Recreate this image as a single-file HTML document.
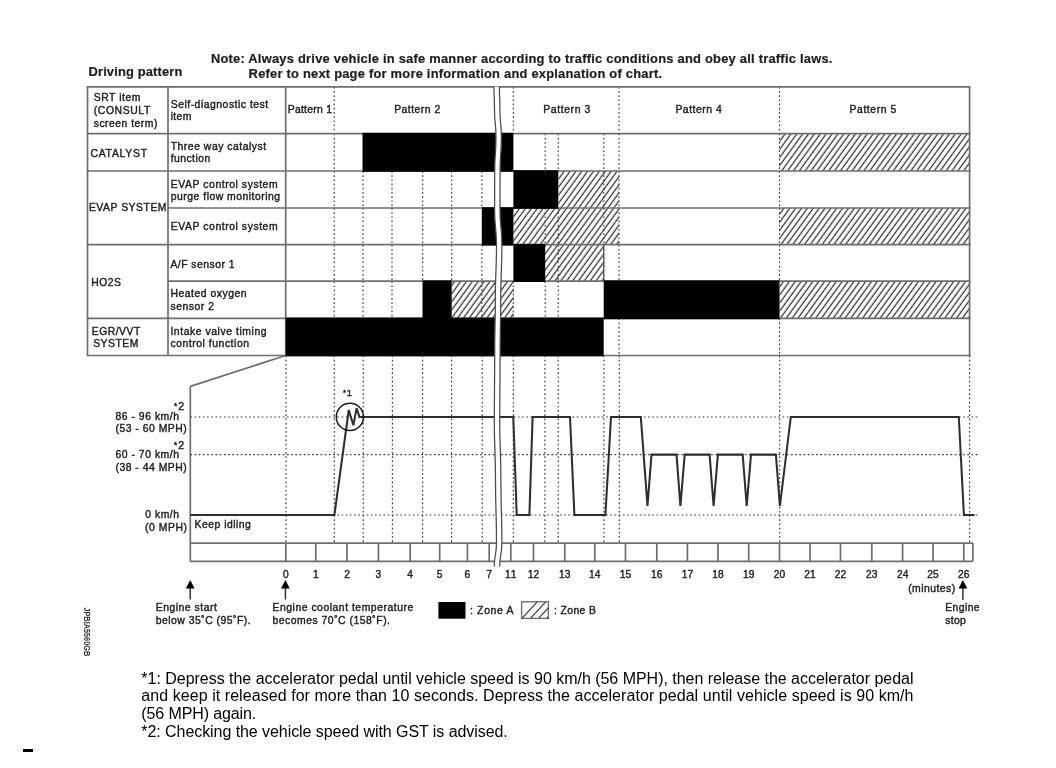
<!DOCTYPE html>
<html><head><meta charset="utf-8"><style>
html,body{margin:0;padding:0;background:#fff;width:1056px;height:768px;overflow:hidden}
svg{display:block;filter:grayscale(1);font-family:"Liberation Sans",sans-serif}
</style></head><body>
<svg width="1056" height="768" viewBox="0 0 1056 768">
<defs>
<pattern id="hatch" patternUnits="userSpaceOnUse" width="4.75" height="20" patternTransform="rotate(36)">
<line x1="1.35" y1="0" x2="1.35" y2="20" stroke="#2e2e2e" stroke-width="1.25"/>
</pattern>
</defs>
<rect width="1056" height="768" fill="#fff"/>
<g fill="#1e1e1e">
<rect x="779.50" y="133.60" width="190.10" height="37.40" fill="url(#hatch)"/>
<rect x="558.30" y="171.00" width="60.70" height="37.00" fill="url(#hatch)"/>
<rect x="513.40" y="208.00" width="105.60" height="36.70" fill="url(#hatch)"/>
<rect x="779.50" y="208.00" width="190.10" height="36.70" fill="url(#hatch)"/>
<rect x="545.20" y="244.70" width="58.50" height="36.50" fill="url(#hatch)"/>
<rect x="451.70" y="281.20" width="61.70" height="37.20" fill="url(#hatch)"/>
<rect x="779.50" y="281.20" width="190.10" height="37.20" fill="url(#hatch)"/>
<line x1="334.2" y1="86.8" x2="334.2" y2="133.6" stroke="#3c3c3c" stroke-width="1.15" stroke-dasharray="1.7 2.5"/>
<line x1="513.3" y1="86.8" x2="513.3" y2="133.6" stroke="#3c3c3c" stroke-width="1.15" stroke-dasharray="1.7 2.5"/>
<line x1="619.0" y1="86.8" x2="619.0" y2="133.6" stroke="#3c3c3c" stroke-width="1.15" stroke-dasharray="1.7 2.5"/>
<line x1="779.5" y1="86.8" x2="779.5" y2="133.6" stroke="#3c3c3c" stroke-width="1.15" stroke-dasharray="1.7 2.5"/>
<line x1="334.2" y1="133.6" x2="334.2" y2="171.0" stroke="#3c3c3c" stroke-width="1.15" stroke-dasharray="1.7 2.5"/>
<line x1="545.2" y1="133.6" x2="545.2" y2="171.0" stroke="#3c3c3c" stroke-width="1.15" stroke-dasharray="1.7 2.5"/>
<line x1="558.2" y1="133.6" x2="558.2" y2="171.0" stroke="#3c3c3c" stroke-width="1.15" stroke-dasharray="1.7 2.5"/>
<line x1="603.8" y1="133.6" x2="603.8" y2="171.0" stroke="#3c3c3c" stroke-width="1.15" stroke-dasharray="1.7 2.5"/>
<line x1="619.0" y1="133.6" x2="619.0" y2="171.0" stroke="#3c3c3c" stroke-width="1.15" stroke-dasharray="1.7 2.5"/>
<line x1="779.5" y1="133.6" x2="779.5" y2="171.0" stroke="#3c3c3c" stroke-width="1.15" stroke-dasharray="1.7 2.5"/>
<line x1="334.2" y1="171.0" x2="334.2" y2="208.0" stroke="#3c3c3c" stroke-width="1.15" stroke-dasharray="1.7 2.5"/>
<line x1="363.0" y1="171.0" x2="363.0" y2="208.0" stroke="#3c3c3c" stroke-width="1.15" stroke-dasharray="1.7 2.5"/>
<line x1="392.0" y1="171.0" x2="392.0" y2="208.0" stroke="#3c3c3c" stroke-width="1.15" stroke-dasharray="1.7 2.5"/>
<line x1="422.7" y1="171.0" x2="422.7" y2="208.0" stroke="#3c3c3c" stroke-width="1.15" stroke-dasharray="1.7 2.5"/>
<line x1="451.7" y1="171.0" x2="451.7" y2="208.0" stroke="#3c3c3c" stroke-width="1.15" stroke-dasharray="1.7 2.5"/>
<line x1="481.9" y1="171.0" x2="481.9" y2="208.0" stroke="#3c3c3c" stroke-width="1.15" stroke-dasharray="1.7 2.5"/>
<line x1="603.8" y1="171.0" x2="603.8" y2="208.0" stroke="#3c3c3c" stroke-width="1.15" stroke-dasharray="1.7 2.5"/>
<line x1="619.0" y1="171.0" x2="619.0" y2="208.0" stroke="#3c3c3c" stroke-width="1.15" stroke-dasharray="1.7 2.5"/>
<line x1="779.5" y1="171.0" x2="779.5" y2="208.0" stroke="#3c3c3c" stroke-width="1.15" stroke-dasharray="1.7 2.5"/>
<line x1="334.2" y1="208.0" x2="334.2" y2="244.7" stroke="#3c3c3c" stroke-width="1.15" stroke-dasharray="1.7 2.5"/>
<line x1="363.0" y1="208.0" x2="363.0" y2="244.7" stroke="#3c3c3c" stroke-width="1.15" stroke-dasharray="1.7 2.5"/>
<line x1="392.0" y1="208.0" x2="392.0" y2="244.7" stroke="#3c3c3c" stroke-width="1.15" stroke-dasharray="1.7 2.5"/>
<line x1="422.7" y1="208.0" x2="422.7" y2="244.7" stroke="#3c3c3c" stroke-width="1.15" stroke-dasharray="1.7 2.5"/>
<line x1="451.7" y1="208.0" x2="451.7" y2="244.7" stroke="#3c3c3c" stroke-width="1.15" stroke-dasharray="1.7 2.5"/>
<line x1="545.2" y1="208.0" x2="545.2" y2="244.7" stroke="#3c3c3c" stroke-width="1.15" stroke-dasharray="1.7 2.5"/>
<line x1="558.2" y1="208.0" x2="558.2" y2="244.7" stroke="#3c3c3c" stroke-width="1.15" stroke-dasharray="1.7 2.5"/>
<line x1="603.8" y1="208.0" x2="603.8" y2="244.7" stroke="#3c3c3c" stroke-width="1.15" stroke-dasharray="1.7 2.5"/>
<line x1="619.0" y1="208.0" x2="619.0" y2="244.7" stroke="#3c3c3c" stroke-width="1.15" stroke-dasharray="1.7 2.5"/>
<line x1="779.5" y1="208.0" x2="779.5" y2="244.7" stroke="#3c3c3c" stroke-width="1.15" stroke-dasharray="1.7 2.5"/>
<line x1="334.2" y1="244.7" x2="334.2" y2="281.2" stroke="#3c3c3c" stroke-width="1.15" stroke-dasharray="1.7 2.5"/>
<line x1="363.0" y1="244.7" x2="363.0" y2="281.2" stroke="#3c3c3c" stroke-width="1.15" stroke-dasharray="1.7 2.5"/>
<line x1="392.0" y1="244.7" x2="392.0" y2="281.2" stroke="#3c3c3c" stroke-width="1.15" stroke-dasharray="1.7 2.5"/>
<line x1="422.7" y1="244.7" x2="422.7" y2="281.2" stroke="#3c3c3c" stroke-width="1.15" stroke-dasharray="1.7 2.5"/>
<line x1="451.7" y1="244.7" x2="451.7" y2="281.2" stroke="#3c3c3c" stroke-width="1.15" stroke-dasharray="1.7 2.5"/>
<line x1="481.9" y1="244.7" x2="481.9" y2="281.2" stroke="#3c3c3c" stroke-width="1.15" stroke-dasharray="1.7 2.5"/>
<line x1="558.2" y1="244.7" x2="558.2" y2="281.2" stroke="#3c3c3c" stroke-width="1.15" stroke-dasharray="1.7 2.5"/>
<line x1="603.8" y1="244.7" x2="603.8" y2="281.2" stroke="#3c3c3c" stroke-width="1.15" stroke-dasharray="1.7 2.5"/>
<line x1="619.0" y1="244.7" x2="619.0" y2="281.2" stroke="#3c3c3c" stroke-width="1.15" stroke-dasharray="1.7 2.5"/>
<line x1="779.5" y1="244.7" x2="779.5" y2="281.2" stroke="#3c3c3c" stroke-width="1.15" stroke-dasharray="1.7 2.5"/>
<line x1="334.2" y1="281.2" x2="334.2" y2="318.4" stroke="#3c3c3c" stroke-width="1.15" stroke-dasharray="1.7 2.5"/>
<line x1="363.0" y1="281.2" x2="363.0" y2="318.4" stroke="#3c3c3c" stroke-width="1.15" stroke-dasharray="1.7 2.5"/>
<line x1="392.0" y1="281.2" x2="392.0" y2="318.4" stroke="#3c3c3c" stroke-width="1.15" stroke-dasharray="1.7 2.5"/>
<line x1="481.9" y1="281.2" x2="481.9" y2="318.4" stroke="#3c3c3c" stroke-width="1.15" stroke-dasharray="1.7 2.5"/>
<line x1="513.3" y1="281.2" x2="513.3" y2="318.4" stroke="#3c3c3c" stroke-width="1.15" stroke-dasharray="1.7 2.5"/>
<line x1="545.2" y1="281.2" x2="545.2" y2="318.4" stroke="#3c3c3c" stroke-width="1.15" stroke-dasharray="1.7 2.5"/>
<line x1="558.2" y1="281.2" x2="558.2" y2="318.4" stroke="#3c3c3c" stroke-width="1.15" stroke-dasharray="1.7 2.5"/>
<line x1="619.0" y1="318.4" x2="619.0" y2="355.5" stroke="#3c3c3c" stroke-width="1.15" stroke-dasharray="1.7 2.5"/>
<line x1="779.5" y1="318.4" x2="779.5" y2="355.5" stroke="#3c3c3c" stroke-width="1.15" stroke-dasharray="1.7 2.5"/>
<line x1="86.65" y1="86.8" x2="970.45" y2="86.8" stroke="#6e6e6e" stroke-width="1.7" />
<line x1="86.65" y1="133.6" x2="970.45" y2="133.6" stroke="#6e6e6e" stroke-width="1.7" />
<line x1="86.65" y1="171.0" x2="970.45" y2="171.0" stroke="#6e6e6e" stroke-width="1.7" />
<line x1="168.0" y1="208.0" x2="970.45" y2="208.0" stroke="#6e6e6e" stroke-width="1.7" />
<line x1="86.65" y1="244.7" x2="970.45" y2="244.7" stroke="#6e6e6e" stroke-width="1.7" />
<line x1="168.0" y1="281.2" x2="970.45" y2="281.2" stroke="#6e6e6e" stroke-width="1.7" />
<line x1="86.65" y1="318.4" x2="970.45" y2="318.4" stroke="#6e6e6e" stroke-width="1.7" />
<line x1="86.65" y1="355.5" x2="970.45" y2="355.5" stroke="#6e6e6e" stroke-width="1.7" />
<line x1="603.7" y1="244.7" x2="603.7" y2="281.2" stroke="#555" stroke-width="1.3" />
<line x1="87.5" y1="86.8" x2="87.5" y2="355.5" stroke="#6e6e6e" stroke-width="1.7" />
<line x1="168.0" y1="86.8" x2="168.0" y2="355.5" stroke="#6e6e6e" stroke-width="1.7" />
<line x1="285.7" y1="86.8" x2="285.7" y2="355.5" stroke="#6e6e6e" stroke-width="1.7" />
<line x1="969.6" y1="86.8" x2="969.6" y2="355.5" stroke="#6e6e6e" stroke-width="1.7" />
<rect x="362.50" y="132.79999999999998" width="150.90" height="39.00000000000001" fill="#000"/>
<rect x="513.40" y="170.2" width="44.90" height="38.6" fill="#000"/>
<rect x="481.80" y="207.2" width="31.60" height="38.29999999999999" fill="#000"/>
<rect x="513.40" y="243.89999999999998" width="31.80" height="38.1" fill="#000"/>
<rect x="422.50" y="280.4" width="29.20" height="38.79999999999999" fill="#000"/>
<rect x="603.70" y="280.4" width="175.80" height="38.79999999999999" fill="#000"/>
<rect x="285.70" y="317.59999999999997" width="318.00" height="38.700000000000024" fill="#000"/>
<line x1="285.7" y1="355.5" x2="190.3" y2="386.4" stroke="#6e6e6e" stroke-width="1.7" />
<line x1="190.3" y1="386.4" x2="190.3" y2="561.3" stroke="#6e6e6e" stroke-width="1.7" />
<line x1="190.3" y1="417.0" x2="977.6" y2="417.0" stroke="#3c3c3c" stroke-width="1.15" stroke-dasharray="1.7 2.5"/>
<line x1="190.3" y1="454.6" x2="977.6" y2="454.6" stroke="#3c3c3c" stroke-width="1.15" stroke-dasharray="1.7 2.5"/>
<line x1="190.3" y1="515.0" x2="977.6" y2="515.0" stroke="#3c3c3c" stroke-width="1.15" stroke-dasharray="1.7 2.5"/>
<line x1="286.0" y1="355.5" x2="286.0" y2="543.1" stroke="#3c3c3c" stroke-width="1.15" stroke-dasharray="1.7 2.5"/>
<line x1="334.3" y1="355.5" x2="334.3" y2="543.1" stroke="#3c3c3c" stroke-width="1.15" stroke-dasharray="1.7 2.5"/>
<line x1="363.2" y1="355.5" x2="363.2" y2="543.1" stroke="#3c3c3c" stroke-width="1.15" stroke-dasharray="1.7 2.5"/>
<line x1="392.4" y1="355.5" x2="392.4" y2="543.1" stroke="#3c3c3c" stroke-width="1.15" stroke-dasharray="1.7 2.5"/>
<line x1="422.6" y1="355.5" x2="422.6" y2="543.1" stroke="#3c3c3c" stroke-width="1.15" stroke-dasharray="1.7 2.5"/>
<line x1="451.6" y1="355.5" x2="451.6" y2="543.1" stroke="#3c3c3c" stroke-width="1.15" stroke-dasharray="1.7 2.5"/>
<line x1="482.2" y1="355.5" x2="482.2" y2="543.1" stroke="#3c3c3c" stroke-width="1.15" stroke-dasharray="1.7 2.5"/>
<line x1="513.3" y1="355.5" x2="513.3" y2="543.1" stroke="#3c3c3c" stroke-width="1.15" stroke-dasharray="1.7 2.5"/>
<line x1="544.9" y1="355.5" x2="544.9" y2="543.1" stroke="#3c3c3c" stroke-width="1.15" stroke-dasharray="1.7 2.5"/>
<line x1="558.2" y1="355.5" x2="558.2" y2="543.1" stroke="#3c3c3c" stroke-width="1.15" stroke-dasharray="1.7 2.5"/>
<line x1="603.9" y1="355.5" x2="603.9" y2="543.1" stroke="#3c3c3c" stroke-width="1.15" stroke-dasharray="1.7 2.5"/>
<line x1="619.3" y1="355.5" x2="619.3" y2="543.1" stroke="#3c3c3c" stroke-width="1.15" stroke-dasharray="1.7 2.5"/>
<line x1="779.7" y1="355.5" x2="779.7" y2="543.1" stroke="#3c3c3c" stroke-width="1.15" stroke-dasharray="1.7 2.5"/>
<line x1="969.6" y1="355.5" x2="969.6" y2="543.1" stroke="#3c3c3c" stroke-width="1.15" stroke-dasharray="1.7 2.5"/>
<line x1="190.3" y1="543.1" x2="972.9" y2="543.1" stroke="#6e6e6e" stroke-width="1.7" />
<line x1="190.3" y1="561.3" x2="972.9" y2="561.3" stroke="#6e6e6e" stroke-width="1.7" />
<line x1="972.9" y1="543.1" x2="972.9" y2="561.3" stroke="#6e6e6e" stroke-width="1.7" />
<line x1="285.8" y1="543.1" x2="285.8" y2="561.3" stroke="#6e6e6e" stroke-width="1.7" />
<text x="285.8" y="578.0" font-size="10.2" stroke="#1e1e1e" stroke-width="0.4" text-anchor="middle" stroke-width="0.42">0</text>
<line x1="315.8" y1="543.1" x2="315.8" y2="561.3" stroke="#6e6e6e" stroke-width="1.7" />
<text x="315.8" y="578.0" font-size="10.2" stroke="#1e1e1e" stroke-width="0.4" text-anchor="middle" stroke-width="0.42">1</text>
<line x1="347.0" y1="543.1" x2="347.0" y2="561.3" stroke="#6e6e6e" stroke-width="1.7" />
<text x="347.0" y="578.0" font-size="10.2" stroke="#1e1e1e" stroke-width="0.4" text-anchor="middle" stroke-width="0.42">2</text>
<line x1="378.4" y1="543.1" x2="378.4" y2="561.3" stroke="#6e6e6e" stroke-width="1.7" />
<text x="378.4" y="578.0" font-size="10.2" stroke="#1e1e1e" stroke-width="0.4" text-anchor="middle" stroke-width="0.42">3</text>
<line x1="410.2" y1="543.1" x2="410.2" y2="561.3" stroke="#6e6e6e" stroke-width="1.7" />
<text x="410.2" y="578.0" font-size="10.2" stroke="#1e1e1e" stroke-width="0.4" text-anchor="middle" stroke-width="0.42">4</text>
<line x1="439.7" y1="543.1" x2="439.7" y2="561.3" stroke="#6e6e6e" stroke-width="1.7" />
<text x="439.7" y="578.0" font-size="10.2" stroke="#1e1e1e" stroke-width="0.4" text-anchor="middle" stroke-width="0.42">5</text>
<line x1="467.4" y1="543.1" x2="467.4" y2="561.3" stroke="#6e6e6e" stroke-width="1.7" />
<text x="467.4" y="578.0" font-size="10.2" stroke="#1e1e1e" stroke-width="0.4" text-anchor="middle" stroke-width="0.42">6</text>
<line x1="489.2" y1="543.1" x2="489.2" y2="561.3" stroke="#6e6e6e" stroke-width="1.7" />
<text x="489.2" y="578.0" font-size="10.2" stroke="#1e1e1e" stroke-width="0.4" text-anchor="middle" stroke-width="0.42">7</text>
<line x1="510.8" y1="543.1" x2="510.8" y2="561.3" stroke="#6e6e6e" stroke-width="1.7" />
<text x="510.8" y="578.0" font-size="10.2" stroke="#1e1e1e" stroke-width="0.4" textLength="11.4" lengthAdjust="spacing" text-anchor="middle" stroke-width="0.42">11</text>
<line x1="533.5" y1="543.1" x2="533.5" y2="561.3" stroke="#6e6e6e" stroke-width="1.7" />
<text x="533.5" y="578.0" font-size="10.2" stroke="#1e1e1e" stroke-width="0.4" textLength="11.4" lengthAdjust="spacing" text-anchor="middle" stroke-width="0.42">12</text>
<line x1="564.8" y1="543.1" x2="564.8" y2="561.3" stroke="#6e6e6e" stroke-width="1.7" />
<text x="564.8" y="578.0" font-size="10.2" stroke="#1e1e1e" stroke-width="0.4" textLength="11.4" lengthAdjust="spacing" text-anchor="middle" stroke-width="0.42">13</text>
<line x1="594.8" y1="543.1" x2="594.8" y2="561.3" stroke="#6e6e6e" stroke-width="1.7" />
<text x="594.8" y="578.0" font-size="10.2" stroke="#1e1e1e" stroke-width="0.4" textLength="11.4" lengthAdjust="spacing" text-anchor="middle" stroke-width="0.42">14</text>
<line x1="625.5" y1="543.1" x2="625.5" y2="561.3" stroke="#6e6e6e" stroke-width="1.7" />
<text x="625.5" y="578.0" font-size="10.2" stroke="#1e1e1e" stroke-width="0.4" textLength="11.4" lengthAdjust="spacing" text-anchor="middle" stroke-width="0.42">15</text>
<line x1="656.8" y1="543.1" x2="656.8" y2="561.3" stroke="#6e6e6e" stroke-width="1.7" />
<text x="656.8" y="578.0" font-size="10.2" stroke="#1e1e1e" stroke-width="0.4" textLength="11.4" lengthAdjust="spacing" text-anchor="middle" stroke-width="0.42">16</text>
<line x1="687.4" y1="543.1" x2="687.4" y2="561.3" stroke="#6e6e6e" stroke-width="1.7" />
<text x="687.4" y="578.0" font-size="10.2" stroke="#1e1e1e" stroke-width="0.4" textLength="11.4" lengthAdjust="spacing" text-anchor="middle" stroke-width="0.42">17</text>
<line x1="718.0" y1="543.1" x2="718.0" y2="561.3" stroke="#6e6e6e" stroke-width="1.7" />
<text x="718.0" y="578.0" font-size="10.2" stroke="#1e1e1e" stroke-width="0.4" textLength="11.4" lengthAdjust="spacing" text-anchor="middle" stroke-width="0.42">18</text>
<line x1="748.7" y1="543.1" x2="748.7" y2="561.3" stroke="#6e6e6e" stroke-width="1.7" />
<text x="748.7" y="578.0" font-size="10.2" stroke="#1e1e1e" stroke-width="0.4" textLength="11.4" lengthAdjust="spacing" text-anchor="middle" stroke-width="0.42">19</text>
<line x1="779.5" y1="543.1" x2="779.5" y2="561.3" stroke="#6e6e6e" stroke-width="1.7" />
<text x="779.5" y="578.0" font-size="10.2" stroke="#1e1e1e" stroke-width="0.4" textLength="11.4" lengthAdjust="spacing" text-anchor="middle" stroke-width="0.42">20</text>
<line x1="810.0" y1="543.1" x2="810.0" y2="561.3" stroke="#6e6e6e" stroke-width="1.7" />
<text x="810.0" y="578.0" font-size="10.2" stroke="#1e1e1e" stroke-width="0.4" textLength="11.4" lengthAdjust="spacing" text-anchor="middle" stroke-width="0.42">21</text>
<line x1="840.5" y1="543.1" x2="840.5" y2="561.3" stroke="#6e6e6e" stroke-width="1.7" />
<text x="840.5" y="578.0" font-size="10.2" stroke="#1e1e1e" stroke-width="0.4" textLength="11.4" lengthAdjust="spacing" text-anchor="middle" stroke-width="0.42">22</text>
<line x1="871.8" y1="543.1" x2="871.8" y2="561.3" stroke="#6e6e6e" stroke-width="1.7" />
<text x="871.8" y="578.0" font-size="10.2" stroke="#1e1e1e" stroke-width="0.4" textLength="11.4" lengthAdjust="spacing" text-anchor="middle" stroke-width="0.42">23</text>
<line x1="902.6" y1="543.1" x2="902.6" y2="561.3" stroke="#6e6e6e" stroke-width="1.7" />
<text x="902.6" y="578.0" font-size="10.2" stroke="#1e1e1e" stroke-width="0.4" textLength="11.4" lengthAdjust="spacing" text-anchor="middle" stroke-width="0.42">24</text>
<line x1="933.0" y1="543.1" x2="933.0" y2="561.3" stroke="#6e6e6e" stroke-width="1.7" />
<text x="933.0" y="578.0" font-size="10.2" stroke="#1e1e1e" stroke-width="0.4" textLength="11.4" lengthAdjust="spacing" text-anchor="middle" stroke-width="0.42">25</text>
<line x1="963.8" y1="543.1" x2="963.8" y2="561.3" stroke="#6e6e6e" stroke-width="1.7" />
<text x="963.8" y="578.0" font-size="10.2" stroke="#1e1e1e" stroke-width="0.4" textLength="11.4" lengthAdjust="spacing" text-anchor="middle" stroke-width="0.42">26</text>
<polyline points="190.3,515.0 334.4,515.0 348.75,410.0 353.4,425.3 356.6,408.1 359.5,417.0 497.3,417.0" fill="none" stroke="#2e2e2e" stroke-width="2.05" stroke-linejoin="miter"/>
<polyline points="497.3,417.0 513.3,417.0 516.7,515.0 529.4,515.0 532.6,417.0 570.0,417.0 574.4,515.0 605.4,515.0 611.0,417.0 640.8,417.0 647.5,506.0 651.5,454.6 676.5,454.6 680.4,506.0 684.7,454.6 709.6,454.6 713.6,506.0 717.9,454.6 742.7,454.6 746.7,506.0 751.0,454.6 775.9,454.6 779.9,506.0 790.8,417.0 958.8,417.0 963.9,515.0 974.6,515.0" fill="none" stroke="#2e2e2e" stroke-width="2.05" stroke-linejoin="miter"/>
<circle cx="349.9" cy="416.9" r="13.6" fill="none" stroke="#1a1a1a" stroke-width="1.5"/>
<path d="M496.7,86.8 C496.7,98.4 497.2,98.4 497.2,110 C497.2,123.5 498.7,123.5 498.7,137 C498.7,154.0 497.4,154.0 497.4,171 C497.4,190.5 497.3,190.5 497.3,210 C497.3,227.5 499.2,227.5 499.2,245 C499.2,272.5 498.0,272.5 498.0,300 C498.0,327.5 497.4,327.5 497.4,355 C497.4,387.5 497.0,387.5 497.0,420 C497.0,450.0 498.2,450.0 498.2,480 C498.2,511.5 499.2,511.5 499.2,543 C499.2,554.75 497.0,554.75 497.0,566.5" fill="none" stroke="#fff" stroke-width="5.6"/>
<path d="M494.0,86.8 C494.0,98.4 494.5,98.4 494.5,110 C494.5,123.5 496.0,123.5 496.0,137 C496.0,154.0 494.7,154.0 494.7,171 C494.7,190.5 494.6,190.5 494.6,210 C494.6,227.5 496.5,227.5 496.5,245 C496.5,272.5 495.3,272.5 495.3,300 C495.3,327.5 494.7,327.5 494.7,355 C494.7,387.5 494.3,387.5 494.3,420 C494.3,450.0 495.5,450.0 495.5,480 C495.5,511.5 496.5,511.5 496.5,543 C496.5,554.75 494.3,554.75 494.3,566.5" fill="none" stroke="#4a4a4a" stroke-width="1.25"/>
<path d="M499.4,86.8 C499.4,98.4 499.9,98.4 499.9,110 C499.9,123.5 501.4,123.5 501.4,137 C501.4,154.0 500.09999999999997,154.0 500.09999999999997,171 C500.09999999999997,190.5 500.0,190.5 500.0,210 C500.0,227.5 501.9,227.5 501.9,245 C501.9,272.5 500.7,272.5 500.7,300 C500.7,327.5 500.09999999999997,327.5 500.09999999999997,355 C500.09999999999997,387.5 499.7,387.5 499.7,420 C499.7,450.0 500.9,450.0 500.9,480 C500.9,511.5 501.9,511.5 501.9,543 C501.9,554.75 499.7,554.75 499.7,566.5" fill="none" stroke="#4a4a4a" stroke-width="1.25"/>
<text x="88.5" y="75.9" font-size="12.9" font-weight="bold" textLength="93.8" lengthAdjust="spacing" stroke="#1e1e1e" stroke-width="0.2">Driving pattern</text>
<text x="210.9" y="63.0" font-size="12.9" font-weight="bold" textLength="621.5" lengthAdjust="spacing" stroke="#1e1e1e" stroke-width="0.2">Note: Always drive vehicle in safe manner according to traffic conditions and obey all traffic laws.</text>
<text x="248.6" y="77.8" font-size="12.9" font-weight="bold" textLength="413.4" lengthAdjust="spacing" stroke="#1e1e1e" stroke-width="0.2">Refer to next page for more information and explanation of chart.</text>
<text x="93.7" y="101.3" font-size="10.4" stroke="#1e1e1e" stroke-width="0.4" textLength="46.7" lengthAdjust="spacing" >SRT item</text>
<text x="93.7" y="114.4" font-size="10.4" stroke="#1e1e1e" stroke-width="0.4" textLength="56.6" lengthAdjust="spacing" >(CONSULT</text>
<text x="93.7" y="127.1" font-size="10.4" stroke="#1e1e1e" stroke-width="0.4" textLength="63.7" lengthAdjust="spacing" >screen term)</text>
<text x="170.7" y="107.5" font-size="10.4" stroke="#1e1e1e" stroke-width="0.4" textLength="97.5" lengthAdjust="spacing" >Self-diagnostic test</text>
<text x="170.7" y="120.3" font-size="10.4" stroke="#1e1e1e" stroke-width="0.4" textLength="20.6" lengthAdjust="spacing" >item</text>
<text x="287.7" y="113.2" font-size="10.4" stroke="#1e1e1e" stroke-width="0.4" textLength="44.3" lengthAdjust="spacing" >Pattern 1</text>
<text x="394.2" y="113.2" font-size="10.4" stroke="#1e1e1e" stroke-width="0.4" textLength="46.0" lengthAdjust="spacing" >Pattern 2</text>
<text x="543.3" y="113.2" font-size="10.4" stroke="#1e1e1e" stroke-width="0.4" textLength="47.0" lengthAdjust="spacing" >Pattern 3</text>
<text x="675.4" y="113.2" font-size="10.4" stroke="#1e1e1e" stroke-width="0.4" textLength="46.3" lengthAdjust="spacing" >Pattern 4</text>
<text x="849.6" y="113.2" font-size="10.4" stroke="#1e1e1e" stroke-width="0.4" textLength="46.6" lengthAdjust="spacing" >Pattern 5</text>
<text x="90.4" y="156.8" font-size="10.4" stroke="#1e1e1e" stroke-width="0.4" textLength="56.7" lengthAdjust="spacing" >CATALYST</text>
<text x="170.7" y="149.5" font-size="10.4" stroke="#1e1e1e" stroke-width="0.4" textLength="95.5" lengthAdjust="spacing" >Three way catalyst</text>
<text x="170.7" y="161.9" font-size="10.4" stroke="#1e1e1e" stroke-width="0.4" textLength="39.5" lengthAdjust="spacing" >function</text>
<text x="88.9" y="211.1" font-size="10.4" stroke="#1e1e1e" stroke-width="0.4" textLength="77.6" lengthAdjust="spacing" >EVAP SYSTEM</text>
<text x="170.8" y="187.7" font-size="10.4" stroke="#1e1e1e" stroke-width="0.4" textLength="106.8" lengthAdjust="spacing" >EVAP control system</text>
<text x="170.8" y="199.9" font-size="10.4" stroke="#1e1e1e" stroke-width="0.4" textLength="109.3" lengthAdjust="spacing" >purge flow monitoring</text>
<text x="170.8" y="230.0" font-size="10.4" stroke="#1e1e1e" stroke-width="0.4" textLength="106.8" lengthAdjust="spacing" >EVAP control system</text>
<text x="91.2" y="285.6" font-size="10.4" stroke="#1e1e1e" stroke-width="0.4" textLength="29.7" lengthAdjust="spacing" >HO2S</text>
<text x="170.4" y="268.1" font-size="10.4" stroke="#1e1e1e" stroke-width="0.4" textLength="64.1" lengthAdjust="spacing" >A/F sensor 1</text>
<text x="170.4" y="297.3" font-size="10.4" stroke="#1e1e1e" stroke-width="0.4" textLength="76.1" lengthAdjust="spacing" >Heated oxygen</text>
<text x="170.4" y="309.9" font-size="10.4" stroke="#1e1e1e" stroke-width="0.4" textLength="43.7" lengthAdjust="spacing" >sensor 2</text>
<text x="91.8" y="334.5" font-size="10.4" stroke="#1e1e1e" stroke-width="0.4" textLength="48.5" lengthAdjust="spacing" >EGR/VVT</text>
<text x="93.2" y="347.4" font-size="10.4" stroke="#1e1e1e" stroke-width="0.4" textLength="45.2" lengthAdjust="spacing" >SYSTEM</text>
<text x="170.4" y="334.5" font-size="10.4" stroke="#1e1e1e" stroke-width="0.4" textLength="96.1" lengthAdjust="spacing" >Intake valve timing</text>
<text x="170.4" y="347.4" font-size="10.4" stroke="#1e1e1e" stroke-width="0.4" textLength="78.6" lengthAdjust="spacing" >control function</text>
<text x="115.4" y="419.5" font-size="10.4" stroke="#1e1e1e" stroke-width="0.4" textLength="63.6" lengthAdjust="spacing" >86 - 96 km/h</text>
<text x="115.4" y="432.0" font-size="10.4" stroke="#1e1e1e" stroke-width="0.4" textLength="71.4" lengthAdjust="spacing" >(53 - 60 MPH)</text>
<text x="115.4" y="458.0" font-size="10.4" stroke="#1e1e1e" stroke-width="0.4" textLength="63.6" lengthAdjust="spacing" >60 - 70 km/h</text>
<text x="115.4" y="470.5" font-size="10.4" stroke="#1e1e1e" stroke-width="0.4" textLength="71.4" lengthAdjust="spacing" >(38 - 44 MPH)</text>
<text x="145.2" y="518.3" font-size="10.4" stroke="#1e1e1e" stroke-width="0.4" textLength="33.8" lengthAdjust="spacing" >0 km/h</text>
<text x="145.0" y="530.8" font-size="10.4" stroke="#1e1e1e" stroke-width="0.4" textLength="42.0" lengthAdjust="spacing" >(0 MPH)</text>
<text x="194.6" y="528.1" font-size="10.4" stroke="#1e1e1e" stroke-width="0.4" textLength="56.3" lengthAdjust="spacing" >Keep idling</text>
<text x="908.2" y="592.3" font-size="10.4" stroke="#1e1e1e" stroke-width="0.4" textLength="46.9" lengthAdjust="spacing" >(minutes)</text>
<text x="945.3" y="611.2" font-size="10.4" stroke="#1e1e1e" stroke-width="0.4" textLength="34.3" lengthAdjust="spacing" >Engine</text>
<text x="945.3" y="624.2" font-size="10.4" stroke="#1e1e1e" stroke-width="0.4" textLength="20.5" lengthAdjust="spacing" >stop</text>
<text x="155.7" y="611.0" font-size="10.4" stroke="#1e1e1e" stroke-width="0.4" textLength="61.1" lengthAdjust="spacing" >Engine start</text>
<text x="155.7" y="624.0" font-size="10.4" stroke="#1e1e1e" stroke-width="0.4" textLength="94.9" lengthAdjust="spacing" >below 35˚C (95˚F).</text>
<text x="272.5" y="611.0" font-size="10.4" stroke="#1e1e1e" stroke-width="0.4" textLength="140.7" lengthAdjust="spacing" >Engine coolant temperature</text>
<text x="272.5" y="624.0" font-size="10.4" stroke="#1e1e1e" stroke-width="0.4" textLength="117.5" lengthAdjust="spacing" >becomes 70˚C (158˚F).</text>
<text x="470.0" y="614.0" font-size="10.4" stroke="#1e1e1e" stroke-width="0.4" textLength="43.4" lengthAdjust="spacing" >: Zone A</text>
<text x="553.9" y="614.0" font-size="10.4" stroke="#1e1e1e" stroke-width="0.4" textLength="42.1" lengthAdjust="spacing" >: Zone B</text>
<text x="174.0" y="409.0" font-size="8.2" stroke="#1e1e1e" stroke-width="0.4" >*</text>
<text x="178.3" y="410.2" font-size="10.6" stroke="#1e1e1e" stroke-width="0.4" >2</text>
<text x="174.0" y="447.5" font-size="8.2" stroke="#1e1e1e" stroke-width="0.4" >*</text>
<text x="178.3" y="448.7" font-size="10.6" stroke="#1e1e1e" stroke-width="0.4" >2</text>
<text x="343.0" y="395.2" font-size="7.6" stroke="#1e1e1e" stroke-width="0.4" >*</text>
<text x="346.8" y="396.4" font-size="9.2" stroke="#1e1e1e" stroke-width="0.4" >1</text>
<line x1="190.2" y1="586.0" x2="190.2" y2="599.5" stroke="#333" stroke-width="1.5"/>
<polygon points="190.2,580.0 185.79999999999998,588.4 194.6,588.4" fill="#000"/>
<line x1="285.4" y1="586.0" x2="285.4" y2="599.5" stroke="#333" stroke-width="1.5"/>
<polygon points="285.4,580.0 281.0,588.4 289.79999999999995,588.4" fill="#000"/>
<line x1="962.9" y1="586.0" x2="962.9" y2="600.1" stroke="#333" stroke-width="1.5"/>
<polygon points="962.9,580.0 958.5,588.4 967.3,588.4" fill="#000"/>
<rect x="438.4" y="602" width="27.1" height="16.7" fill="#000"/>
<rect x="521.6" y="601.8" width="26.8" height="16.6" fill="#fff" stroke="#707070" stroke-width="1.4"/>
<g stroke="#3a3a3a" stroke-width="1.2"><line x1="522" y1="618.3" x2="537" y2="602.2"/><line x1="530.5" y1="618.3" x2="545.5" y2="602.2"/><line x1="538.5" y1="618.3" x2="548.3" y2="607.8"/><line x1="546.8" y1="618.3" x2="548.3" y2="616.7"/></g>
<text transform="translate(83.6,607.4) rotate(90)" font-size="9.4" font-weight="bold" textLength="48.8" lengthAdjust="spacingAndGlyphs" fill="#333">JPBIA5560GB</text>
</g>
<text x="141.3" y="683.9" font-size="16" fill="#000" textLength="772.2" lengthAdjust="spacing">*1: Depress the accelerator pedal until vehicle speed is 90 km/h (56 MPH), then release the accelerator pedal</text><text x="141.3" y="700.7" font-size="16" fill="#000" textLength="772.2" lengthAdjust="spacing">and keep it released for more than 10 seconds. Depress the accelerator pedal until vehicle speed is 90 km/h</text><text x="141.3" y="718.8" font-size="16" fill="#000" textLength="115.0" lengthAdjust="spacing">(56 MPH) again.</text><text x="141.3" y="736.9" font-size="16" fill="#000" textLength="366.5" lengthAdjust="spacing">*2: Checking the vehicle speed with GST is advised.</text>
<rect x="23" y="749" width="10" height="3" fill="#000"/>
</svg>
</body></html>
